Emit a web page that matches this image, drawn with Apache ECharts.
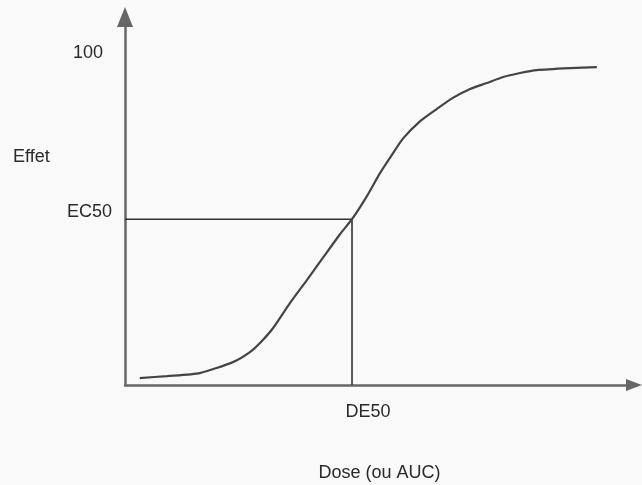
<!DOCTYPE html>
<html>
<head>
<meta charset="utf-8">
<script src="https://cdn.jsdelivr.net/npm/echarts@6/dist/echarts.min.js"></script>
<style>
html,body{margin:0;padding:0;background:#f9f9f9;}
#chart{width:642px;height:485px;}
</style>
</head>
<body>
<div id="chart"></div>
<script>
// Sigmoid dose-effect curve
const doseValues   = [2.9, 8.3, 14.7, 21.2, 24.6, 26.9, 29.1, 32.4, 35.8, 38.9, 42.2, 44.6, 47.5, 50.1, 52.1, 54.6, 58.0, 61.3, 64.4, 67.8, 71.1, 74.3, 77.6, 80.9, 87.4, 92.7];
const effectValues = [2.1, 2.7, 3.6, 6.9, 10.0, 13.3, 17.2, 24.7, 31.8, 38.4, 45.4, 50.0, 56.9, 63.9, 68.6, 74.3, 79.6, 83.3, 86.6, 89.3, 91.1, 92.9, 94.1, 95.0, 95.6, 95.9];
// Reference values
const DE50 = 44.6;
const EC50 = 50;
const yTickValues = [50, 100];
const yTickLabels = ['EC50', '100'];
const xTickValues = [DE50];
const xTickLabels = ['DE50'];
const xAxisName = 'Dose (ou AUC)';
const yAxisName = 'Effet';

const curveData = doseValues.map((d, i) => [d, effectValues[i]]);
const guideData = [[0, EC50], [DE50, EC50], [DE50, 0]];

const chart = echarts.init(document.getElementById('chart'));
const font = 'Liberation Sans, Arial, sans-serif';
chart.setOption({
  backgroundColor: '#f9f9f9',
  animation: false,
  title: {
    text: yAxisName, left: 13, top: 148, padding: 0,
    textStyle: { fontFamily: font, fontSize: 18, fontWeight: 'normal', color: '#2a2a2a' }
  },
  grid: { left: 125, right: 8, top: 17, bottom: 100, containLabel: false, outerBoundsMode: 'none' },
  xAxis: {
    type: 'value', min: 0, max: 100,
    name: xAxisName, nameLocation: 'middle', nameGap: 79,
    nameTextStyle: { fontFamily: font, fontSize: 18, color: '#2a2a2a' },
    axisLine: { show: true, symbol: ['none', 'triangle'], symbolSize: [12, 16],
      lineStyle: { color: '#666', width: 2.5 } },
    axisTick: { show: false },
    splitLine: { show: false },
    axisLabel: {
      customValues: xTickValues,
      margin: 18,
      fontFamily: font, fontSize: 18, color: '#2a2a2a',
      padding: [0, 0, 0, 32],
      formatter: v => { const i = xTickValues.indexOf(v); return i >= 0 ? xTickLabels[i] : ''; }
    }
  },
  yAxis: {
    type: 'value', min: 0, max: 111,
    axisLine: { show: true, symbol: ['none', 'triangle'], symbolSize: [16, 20],
      lineStyle: { color: '#666', width: 2.5 } },
    axisTick: { show: false },
    splitLine: { show: false },
    axisLabel: {
      customValues: yTickValues,
      margin: 13,
      fontFamily: font, fontSize: 18, color: '#2a2a2a',
      formatter: v => {
        const i = yTickValues.indexOf(v);
        if (i < 0) return '';
        return i === 0 ? '{e|' + yTickLabels[i] + '}' : '{h|' + yTickLabels[i] + '}';
      },
      rich: {
        e: { fontFamily: font, fontSize: 18, color: '#2a2a2a', padding: [0, 0, 15, 0] },
        h: { fontFamily: font, fontSize: 18, color: '#2a2a2a', padding: [0, 9, 0, 0] }
      }
    }
  },
  series: [
    {
      type: 'line', data: guideData, symbol: 'none', smooth: false,
      lineStyle: { color: '#333', width: 1.6 }, z: 2
    },
    {
      type: 'line', data: curveData, symbol: 'none', smooth: 0.2,
      lineStyle: { color: '#444', width: 2.2 }, z: 3
    }
  ]
});
</script>
</body>
</html>
